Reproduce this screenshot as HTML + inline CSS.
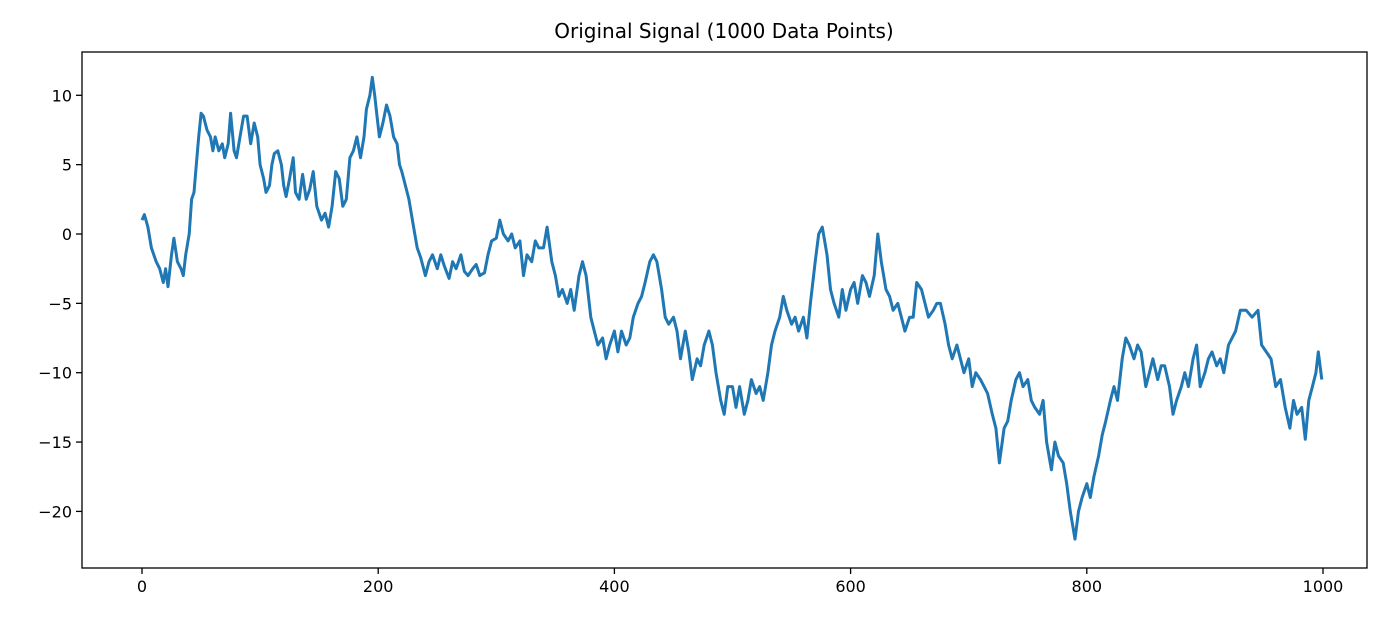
<!DOCTYPE html>
<html><head><meta charset="utf-8"><style>
html,body{margin:0;padding:0;background:#fff;width:1400px;height:625px;overflow:hidden}
svg text{font-family:"DejaVu Sans","Liberation Sans",sans-serif;fill:#000}
</style></head><body>
<svg id="chart" width="1400" height="625"></svg>
<script>
const xs=[0,2,5,8,12,15,18,20,22,25,27,30,33,35,37,40,42,44,46,48,50,52,55,58,60,62,65,68,70,73,75,78,80,83,86,89,92,95,98,100,103,105,108,110,112,115,118,120,122,125,128,130,133,136,139,142,145,148,152,155,158,161,164,167,170,173,176,179,182,185,188,190,193,195,197,199,201,204,207,210,213,216,218,220,223,226,230,233,236,240,243,246,250,253,256,260,263,266,270,273,276,280,283,286,290,293,296,300,303,306,310,313,316,320,323,326,330,333,336,340,343,347,350,353,356,360,363,366,370,373,376,380,383,386,390,393,396,400,403,406,410,413,416,420,423,426,430,433,436,440,443,446,450,453,456,460,463,466,470,473,476,480,483,486,490,493,496,500,503,506,510,513,516,520,523,526,530,533,536,540,543,546,550,553,556,560,563,566,570,573,576,580,583,586,590,593,596,600,603,606,610,613,616,620,623,626,630,633,636,640,643,646,650,653,656,660,663,666,670,673,676,680,683,686,690,693,696,700,703,706,710,713,716,720,723,726,730,733,736,740,743,746,750,753,756,760,763,766,770,773,776,780,783,786,790,793,796,800,803,806,810,813,816,820,823,826,830,833,836,840,843,846,850,853,856,860,863,866,870,873,876,880,883,886,890,893,896,900,903,906,910,913,916,920,926,930,935,940,945,948,952,956,960,964,968,972,975,978,982,985,988,991,994,996,999];
const ys=[1.0,1.4,0.5,-1,-2,-2.5,-3.5,-2.5,-3.8,-1.5,-0.3,-2,-2.5,-3,-1.5,0,2.5,3,5,7,8.7,8.5,7.5,7,6,7,6,6.5,5.5,6.5,8.7,6,5.5,7,8.5,8.5,6.5,8,7,5,4,3,3.5,5,5.8,6,5,3.5,2.7,4,5.5,3,2.5,4.3,2.5,3.2,4.5,2,1,1.5,0.5,2,4.5,4,2,2.5,5.5,6,7,5.5,7,9,10,11.3,10,8.5,7,8,9.3,8.5,7,6.5,5,4.5,3.5,2.5,0.5,-1,-1.7,-3,-2,-1.5,-2.5,-1.5,-2.3,-3.2,-2,-2.5,-1.5,-2.7,-3,-2.5,-2.2,-3,-2.8,-1.5,-0.5,-0.3,1,0,-0.5,0,-1,-0.5,-3,-1.5,-2,-0.5,-1,-1,0.5,-2,-3,-4.5,-4,-5,-4,-5.5,-3,-2,-3,-6,-7,-8,-7.5,-9,-8,-7,-8.5,-7,-8,-7.5,-6,-5,-4.5,-3.5,-2,-1.5,-2,-4,-6,-6.5,-6,-7,-9,-7,-8.5,-10.5,-9,-9.5,-8,-7,-8,-10,-12,-13,-11,-11,-12.5,-11,-13,-12,-10.5,-11.5,-11,-12,-10,-8,-7,-6,-4.5,-5.5,-6.5,-6,-7,-6,-7.5,-5,-2,0,0.5,-1.5,-4,-5,-6,-4,-5.5,-4,-3.5,-5,-3,-3.5,-4.5,-3,0,-2,-4,-4.5,-5.5,-5,-6,-7,-6,-6,-3.5,-4,-5,-6,-5.5,-5,-5,-6.5,-8,-9,-8,-9,-10,-9,-11,-10,-10.5,-11,-11.5,-13,-14,-16.5,-14,-13.5,-12,-10.5,-10,-11,-10.5,-12,-12.5,-13,-12,-15,-17,-15,-16,-16.5,-18,-20,-22,-20,-19,-18,-19,-17.5,-16,-14.5,-13.5,-12,-11,-12,-9,-7.5,-8,-9,-8,-8.5,-11,-10,-9,-10.5,-9.5,-9.5,-11,-13,-12,-11,-10,-11,-9,-8,-11,-10,-9,-8.5,-9.5,-9,-10,-8,-7,-5.5,-5.5,-6,-5.5,-8,-8.5,-9,-11,-10.5,-12.5,-14,-12,-13,-12.5,-14.8,-12,-11,-10,-8.5,-10.5];
const xTicks=[0,200,400,600,800,1000];
const yTicks=[10,5,0,-5,-10,-15,-20];
const L=82,R=1367,T=52,B=568;
const sx=v=>142+v*1.181;
const sy=v=>234-v*13.87;
const svg=document.getElementById('chart');
const NS='http://www.w3.org/2000/svg';
function mk(tag,attrs,parent){const e=document.createElementNS(NS,tag);for(const k in attrs)e.setAttribute(k,attrs[k]);(parent||svg).appendChild(e);return e;}
const t=mk('text',{x:724,y:38,'text-anchor':'middle','font-size':'20'});
t.textContent='Original Signal (1000 Data Points)';


const line=mk('polyline',{points:xs.map((x,i)=>sx(x).toFixed(1)+','+sy(ys[i]).toFixed(1)).join(' '),fill:'none',stroke:'#1f77b4','stroke-width':'3','stroke-linejoin':'round'});


const fr=mk('rect',{x:L,y:T,width:R-L,height:B-T,fill:'none',stroke:'#000','stroke-width':'1.3'});


xTicks.forEach(v=>{
  mk('line',{x1:sx(v),x2:sx(v),y1:B,y2:B+6,stroke:'#000','stroke-width':'1.3'});
  const l=mk('text',{x:sx(v),y:B+24,'text-anchor':'middle','font-size':'16'});
  l.textContent=v;
  
  
});
yTicks.forEach(v=>{
  mk('line',{x1:L-6,x2:L,y1:sy(v),y2:sy(v),stroke:'#000','stroke-width':'1.3'});
  const l=mk('text',{x:L-10,y:sy(v)+6,'text-anchor':'end','font-size':'16'});
  l.textContent=v<0?'\u2212'+(-v):v;
  
  
});
</script>
</body></html>
